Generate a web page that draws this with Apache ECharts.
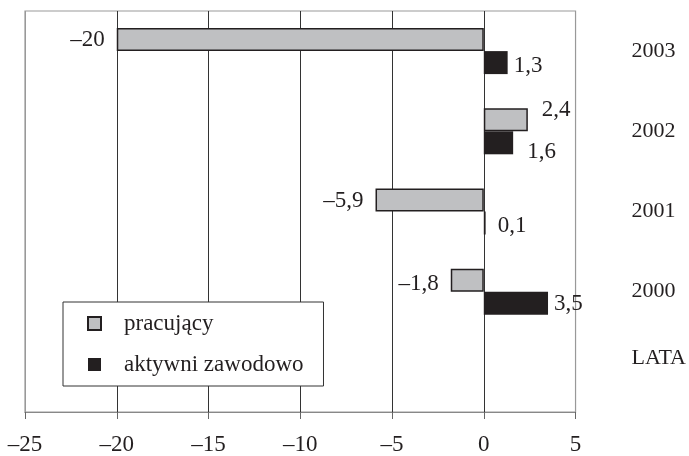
<!doctype html>
<html lang="pl">
<head>
<meta charset="UTF-8">
<title>pracujący / aktywni zawodowo</title>
<script src="https://cdn.jsdelivr.net/npm/echarts@6/dist/echarts.min.js"></script>
<style>
  html, body { margin: 0; padding: 0; background: #fff; }
  #main { width: 689px; height: 456px; }
</style>
</head>
<body>
<div id="main"></div>
<script>
// dane
var lata = ['2003', '2002', '2001', '2000', 'LATA'];
var pracujacy = [-20, 2.4, -5.9, -1.8, null];
var aktywni = [1.3, 1.6, 0.1, 3.5, null];
var xTicks = [-25, -20, -15, -10, -5, 0, 5];

function fmt(v) {
    return String(v).replace('.', ',').replace('-', '\u2013');
}

var font = 'Liberation Serif';

// small label nudges so the numbers sit like in the original
var offPrac = [[0, 0], [6, -10], [0, 1], [0, 4], [0, 0]];
var offAkt = [[0, 3], [8, 9], [6, 3], [0, 1], [0, 0]];

function build(vals, offs) {
    var out = [];
    for (var i = 0; i < vals.length; i++) {
        out.push({ value: vals[i], label: { offset: offs[i] } });
    }
    return out;
}

var myChart = echarts.init(document.getElementById('main'));
var option = {
    animation: false,
    textStyle: { fontFamily: font },
    grid: {
        left: 25, right: 113, top: 11, bottom: 43,
        show: true, borderColor: '#999', borderWidth: 1.2
    },
    legend: {
        orient: 'vertical',
        left: 63, top: 302,
        backgroundColor: '#fff',
        borderColor: '#333', borderWidth: 1,
        padding: [10, 20, 10, 24],
        itemGap: 18,
        itemWidth: 13, itemHeight: 13,
        icon: 'rect',
        textStyle: { fontFamily: font, fontSize: 23, color: '#231f20', padding: [0, 0, 0, 18] },
        data: ['pracujący', 'aktywni zawodowo']
    },
    xAxis: {
        type: 'value',
        min: xTicks[0], max: xTicks[xTicks.length - 1], interval: 5,
        axisLine: { show: true, onZero: false, lineStyle: { color: '#888', width: 1.2 } },
        axisTick: { show: true, inside: false, length: 7, lineStyle: { color: '#666' } },
        axisLabel: { fontFamily: font, fontSize: 23, color: '#231f20', margin: 21, formatter: fmt },
        splitLine: { show: true, lineStyle: { color: ['#999', '#333', '#333', '#333', '#333', '#333', '#999'], width: 1 } }
    },
    yAxis: {
        type: 'category',
        position: 'right',
        inverse: true,
        data: lata,
        axisLine: { show: false },
        axisTick: { show: false },
        axisLabel: {
            fontFamily: font, fontSize: 22, color: '#231f20', margin: 56,
            formatter: function (v) { return v === 'LATA' ? '{up|LATA}' : v; },
            rich: { up: { fontFamily: font, fontSize: 22, color: '#231f20', padding: [0, 0, 28, 0] } }
        }
    },
    series: [
        {
            name: 'pracujący',
            type: 'bar',
            barWidth: 23,
            barGap: '0%',
            data: build(pracujacy, offPrac),
            itemStyle: { color: '#bfc0c2', borderColor: '#231f20', borderWidth: 1.5 },
            label: {
                show: true,
                fontFamily: font, fontSize: 23, color: '#231f20',
                position: 'right', distance: 8,
                formatter: function (p) { return fmt(p.value); }
            }
        },
        {
            name: 'aktywni zawodowo',
            type: 'bar',
            barWidth: 23,
            barGap: '0%',
            data: build(aktywni, offAkt),
            itemStyle: { color: '#231f20', borderColor: '#231f20', borderWidth: 0 },
            label: {
                show: true,
                fontFamily: font, fontSize: 23, color: '#231f20',
                position: 'right', distance: 6,
                formatter: function (p) { return fmt(p.value); }
            }
        }
    ]
};

// negative bars get the number on the left side
option.series[0].data.forEach(function (d) {
    if (d.value !== null && d.value < 0) {
        d.label.position = 'left';
        d.label.distance = 12;
    }
});

myChart.setOption(option);
</script>
</body>
</html>
